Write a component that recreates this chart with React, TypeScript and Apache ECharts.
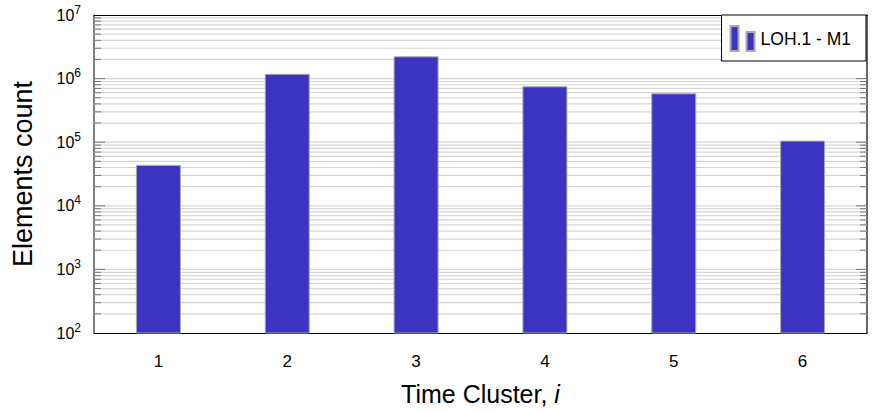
import React, { useEffect, useRef } from "react";
import * as echarts from "echarts";

const categories = ["1", "2", "3", "4", "5", "6"];
const seriesName = "LOH.1 - M1";
const counts = [44000, 1190000, 2240000, 757000, 587000, 106000];

const FONT = "'Liberation Sans', Arial, Helvetica, sans-serif";

function gridValues() {
  const out: { v: number; major: boolean }[] = [];
  for (let d = 2; d <= 6; d++) {
    for (let k = 1; k <= 9; k++) {
      const v = k * Math.pow(10, d);
      if (v === 100) continue;
      out.push({ v, major: k === 1 });
    }
  }
  return out;
}

export default function App() {
  const ref = useRef<HTMLDivElement>(null);
  useEffect(() => {
    if (!ref.current) return;
    const chart = echarts.init(ref.current, null, { renderer: "svg" });
    const gv = gridValues();
    const labelFmt = (val: number) => {
      const e = Math.round(Math.log10(val));
      return "{b|10}{s|" + e + "}";
    };
    chart.setOption({
      animation: false,
      backgroundColor: "#ffffff",
      grid: { left: 94, right: 5, top: 15, bottom: 78 },
      legend: {
        data: [seriesName],
        right: 6,
        top: 15,
        backgroundColor: "#ffffff",
        borderColor: "#000000",
        borderWidth: 1,
        borderRadius: 0,
        padding: [10, 15, 9, 8],
        itemWidth: 24,
        itemHeight: 25,
        itemGap: 5,
        icon: "path://M0,0h8v25h-8zM16,6h8v19h-8z",
        textStyle: { fontFamily: FONT, fontSize: 17.5, color: "#000", padding: [0, 0, 0, 1] },
      },
      xAxis: [
        {
          type: "category",
          data: categories,
          position: "bottom",
          axisLine: { lineStyle: { color: "#000", width: 1 } },
          axisTick: { alignWithLabel: true, length: 11, lineStyle: { color: "#777" } },
          axisLabel: { fontFamily: FONT, fontSize: 17, color: "#000", margin: 20 },
          name: "Time Cluster, {i|i}",
          nameLocation: "middle",
          nameGap: 48,
          nameTextStyle: {
            fontFamily: FONT,
            fontSize: 25,
            color: "#000",
            rich: { i: { fontFamily: FONT, fontSize: 25, fontStyle: "italic", color: "#000" } },
          },
        },
        {
          type: "category",
          data: categories,
          position: "top",
          axisLine: { lineStyle: { color: "#000", width: 1 } },
          axisTick: { alignWithLabel: true, length: 11, lineStyle: { color: "#777" } },
          axisLabel: { show: false },
        },
      ],
      yAxis: [
        {
          type: "log",
          logBase: 10,
          min: 100,
          max: 10000000,
          position: "left",
          axisLine: { show: true, lineStyle: { color: "#555", width: 1.5 } },
          axisTick: { show: false },
          splitLine: { show: false },
          axisLabel: {
            formatter: labelFmt,
            margin: 13,
            rich: {
              b: { fontFamily: FONT, fontSize: 16, color: "#000" },
              s: { fontFamily: FONT, fontSize: 12, color: "#000", padding: [0, 0, 11, 0] },
            },
          },
          name: "Elements count",
          nameLocation: "middle",
          nameGap: 58,
          nameTextStyle: { fontFamily: FONT, fontSize: 27, color: "#000" },
        },
        {
          type: "log",
          logBase: 10,
          min: 100,
          max: 10000000,
          position: "right",
          axisLine: { show: true, lineStyle: { color: "#333", width: 1.5 } },
          axisTick: { show: false },
          splitLine: { show: false },
          axisLabel: { show: false },
        },
      ],
      series: [
        {
          type: "custom",
          name: "grid",
          z: 1,
          silent: true,
          xAxisIndex: 0,
          yAxisIndex: 0,
          data: gv.map((g) => [0, g.v, g.major ? 1 : 0]),
          renderItem: (params: any, api: any) => {
            const cs = params.coordSys;
            const y = api.coord([0, api.value(1)])[1];
            const major = api.value(2) === 1;
            const tl = major ? 11 : 7;
            return {
              type: "group",
              children: [
                {
                  type: "line",
                  shape: { x1: cs.x, y1: y, x2: cs.x + cs.width, y2: y },
                  style: { stroke: "#d6d6d6", lineWidth: 1.2 },
                },
                {
                  type: "line",
                  shape: { x1: cs.x, y1: y, x2: cs.x + tl, y2: y },
                  style: { stroke: "#777", lineWidth: 1 },
                },
                {
                  type: "line",
                  shape: { x1: cs.x + cs.width - tl, y1: y, x2: cs.x + cs.width, y2: y },
                  style: { stroke: "#777", lineWidth: 1 },
                },
              ],
            };
          },
        },
        {
          type: "bar",
          name: seriesName,
          z: 2,
          xAxisIndex: 0,
          yAxisIndex: 0,
          data: counts,
          barWidth: 45,
          itemStyle: { color: "#3d33c2", borderColor: "#aaaaaa", borderWidth: 1 },
        },
      ],
    });
    return () => chart.dispose();
  }, []);
  return (
    <div
      ref={ref}
      style={{ position: "absolute", left: 0, top: 0, width: 872, height: 411 }}
    />
  );
}
